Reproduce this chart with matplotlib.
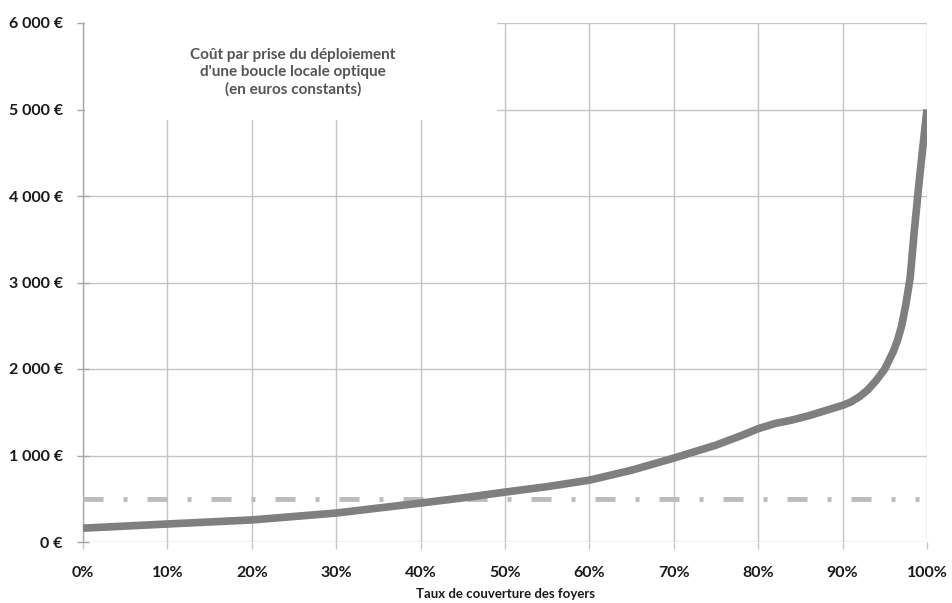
import matplotlib.pyplot as plt
from matplotlib.patches import Rectangle

# Taux de couverture (%) et cout par prise (euros)
couverture = [0, 10, 20, 30, 40, 45, 50, 55, 60, 65, 70, 75, 78, 80, 82, 84,
              86, 88, 90, 91, 92, 93, 94, 95, 96, 96.5, 97, 97.5, 98, 98.5,
              99, 99.5, 100]
cout = [160, 208, 255, 335, 450, 510, 577, 640, 715, 830, 970, 1120, 1230,
        1310, 1370, 1410, 1460, 1520, 1580, 1620, 1680, 1760, 1870, 2000,
        2200, 2330, 2500, 2750, 3050, 3600, 4100, 4560, 5000]

seuil = 500  # ligne horizontale en tirets-points
x_ticks = [0, 10, 20, 30, 40, 50, 60, 70, 80, 90, 100]
x_labels = [f"{v}%" for v in x_ticks]
y_ticks = [0, 1000, 2000, 3000, 4000, 5000, 6000]
y_labels = ["0 €", "1 000 €", "2 000 €", "3 000 €", "4 000 €", "5 000 €", "6 000 €"]

plt.rcParams['font.family'] = ['Lato', 'DejaVu Sans']

fig = plt.figure(figsize=(9.52, 6.03), dpi=100)
ax = fig.add_axes([83 / 952, 61 / 603, 844 / 952, 519 / 603])

ax.set_xlim(0, 100)
ax.set_ylim(0, 6000)
ax.set_xticks(x_ticks)
ax.set_xticklabels(x_labels, fontweight='bold', fontsize=11.5, color='#1a1a1a')
ax.set_yticks(y_ticks)
ax.set_yticklabels(y_labels, fontweight='bold', fontsize=11.5, color='#1a1a1a')

ax.grid(True, color='#c4c4c4', linewidth=1.0)
ax.set_axisbelow(True)
for s in ['top', 'right', 'bottom']:
    ax.spines[s].set_visible(False)
ax.spines['left'].set_color('#a8a8a8')
ax.spines['left'].set_linewidth(1.0)
ax.tick_params(axis='y', direction='inout', length=9, width=1.0,
               color='#a8a8a8', pad=10)
ax.tick_params(axis='x', direction='out', length=5, width=1.0,
               color='#c4c4c4', pad=12)

# ligne de seuil
ax.plot([0, 99], [seuil, seuil], color='#bdbdbd', linewidth=3.6,
        dashes=(4, 4, 0.8, 4), solid_capstyle='butt', dash_capstyle='butt',
        zorder=3)

# courbe principale
ax.plot(couverture, cout, color='#7f7f7f', linewidth=5.5,
        solid_joinstyle='round', solid_capstyle='butt', zorder=4)

# cadre blanc du titre
ax.add_patch(Rectangle((0.2, 4880), 48.8, 1200, facecolor='white',
                       edgecolor='none', zorder=1.5, clip_on=False))
ax.text(24.9, 5430, "Coût par prise du déploiement\nd'une boucle locale optique\n(en euros constants)",
        ha='center', va='center', fontsize=11, fontweight='bold',
        color='#555555', linespacing=1.3, zorder=5)

fig.text(506 / 952, 3 / 603, "Taux de couverture des foyers", ha='center',
         va='bottom', fontsize=9.5, fontweight='bold', color='#1a1a1a')

fig.savefig("out.png", dpi=100)
